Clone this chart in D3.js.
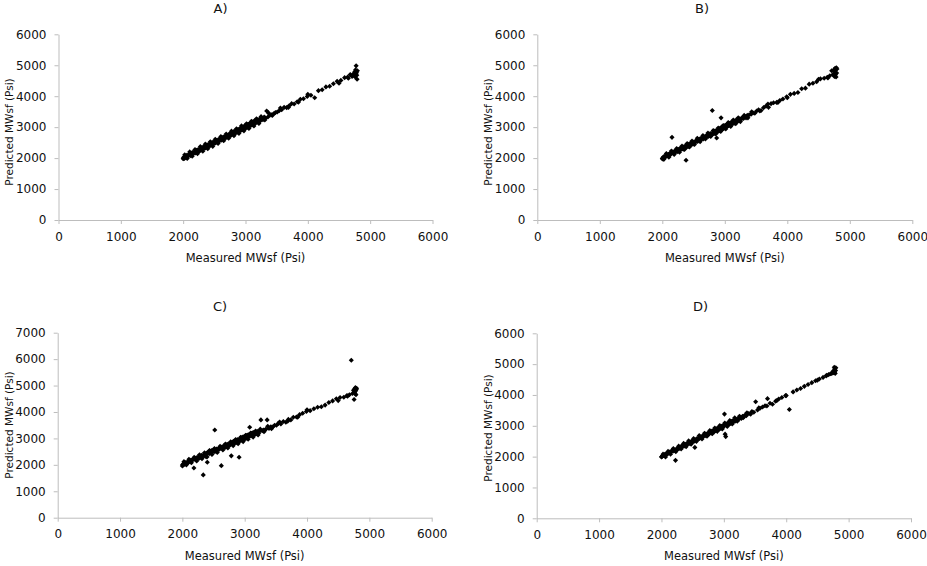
<!DOCTYPE html>
<html>
<head>
<meta charset="utf-8">
<script src="https://cdn.jsdelivr.net/npm/d3@7"></script>
<style>
  html, body { margin: 0; padding: 0; background: #fff; }
  svg { display: block; }
</style>
</head>
<body>
<svg id="chart" width="927" height="566"></svg>
<script>
// ---------------- DATA ----------------
const xTicks = [0, 1000, 2000, 3000, 4000, 5000, 6000];
const yTicks6 = [0, 1000, 2000, 3000, 4000, 5000, 6000];
const yTicks7 = [0, 1000, 2000, 3000, 4000, 5000, 6000, 7000];
const titles = ["A)", "B)", "C)", "D)"];
const xLabel = "Measured MWsf (Psi)";
const yLabel = "Predicted MWsf (Psi)";

// Measured MWsf (shared by the four models)
const measured = [
  2000, 2010, 2020, 2030, 2045, 2060, 2075, 2090, 2100, 2115,
  2130, 2140, 2155, 2170, 2185, 2200, 2210, 2225, 2240, 2255,
  2270, 2280, 2295, 2310, 2320, 2335, 2350, 2360, 2375, 2390,
  2400, 2415, 2430, 2440, 2455, 2470, 2480, 2495, 2510, 2520,
  2535, 2550, 2565, 2580, 2595, 2610, 2625, 2640, 2655, 2670,
  2685, 2700, 2710, 2720, 2735, 2750, 2760, 2770, 2785, 2800,
  2810, 2820, 2830, 2845, 2860, 2870, 2880, 2890, 2900, 2910,
  2920, 2930, 2940, 2950, 2960, 2970, 2980, 2990, 3000, 3010,
  3020, 3030, 3040, 3050, 3060, 3070, 3080, 3090, 3100, 3110,
  3120, 3130, 3140, 3150, 3165, 3180, 3195, 3210, 3225, 3240,
  3260, 3280, 3300, 3320, 3340, 3360, 3390, 3420, 3450, 3480,
  3510, 3540, 3580, 3620, 3660, 3700, 3740, 3780, 3830, 3880,
  3930, 3990, 4050, 4110, 4170, 4230, 4290, 4350, 4410, 4470,
  4530, 4590, 4640, 4680, 4710, 4730, 4745, 4755, 4760, 4765,
  4770, 4775, 4780, 4785, 4790, 4795, 2005, 2050, 2260, 2450,
  2600, 2740, 2850, 2950, 3000, 3050, 3150, 2380, 2550, 2805,
  2025, 2065, 2105, 2145, 2190, 2230, 2275, 2315, 2355, 2395,
  2435, 2475, 2515, 2560, 2605, 2650, 2690, 2730, 2775, 2815,
  2855, 2895, 2935, 2975, 3015, 3055, 3095, 3135, 3175, 3215,
  3250, 3310, 3370, 3430, 3560, 3690, 3850, 4000, 4500, 4650
];

// Predicted MWsf, model A
const predA = [
  1980, 2030, 1990, 2060, 2020, 2090, 2050, 2110, 2130, 2080,
  2160, 2120, 2190, 2150, 2210, 2170, 2250, 2200, 2280, 2230,
  2300, 2250, 2330, 2280, 2360, 2310, 2380, 2330, 2420, 2360,
  2440, 2390, 2470, 2410, 2490, 2440, 2520, 2470, 2540, 2490,
  2570, 2520, 2600, 2550, 2630, 2580, 2660, 2610, 2690, 2640,
  2720, 2670, 2740, 2690, 2770, 2720, 2800, 2740, 2820, 2770,
  2850, 2790, 2870, 2810, 2900, 2840, 2920, 2860, 2940, 2880,
  2960, 2900, 2990, 2920, 3010, 2940, 3030, 2960, 3050, 2980,
  3070, 3000, 3090, 3020, 3110, 3040, 3130, 3060, 3150, 3080,
  3170, 3100, 3200, 3120, 3220, 3150, 3240, 3180, 3260, 3210,
  3290, 3240, 3330, 3290, 3520, 3330, 3390, 3400, 3430, 3470,
  3490, 3530, 3560, 3640, 3630, 3690, 3760, 3750, 3820, 3900,
  3920, 3990, 4030, 3950, 4180, 4210, 4300, 4320, 4400, 4480,
  4510, 4600, 4620, 4700, 4640, 4720, 4680, 4790, 4620, 4850,
  4720, 4980, 4760, 4680, 4550, 4820, 2000, 2070, 2240, 2480,
  2630, 2710, 2880, 2980, 2990, 3080, 3160, 2400, 2530, 2840,
  2110, 1990, 2200, 2060, 2280, 2140, 2370, 2220, 2450, 2300,
  2530, 2380, 2610, 2470, 2700, 2560, 2780, 2640, 2870, 2720,
  2950, 2800, 3040, 2880, 3110, 2960, 3190, 3040, 3270, 3120,
  3340, 3230, 3460, 3380, 3620, 3640, 3810, 4060, 4420, 4580
];

// Predicted MWsf, model B
const predB = [
  1990, 2000, 2040, 2010, 2070, 2050, 2100, 2080, 2120, 2140,
  2110, 2170, 2670, 2200, 2160, 2230, 2190, 2260, 2210, 2280,
  2240, 2310, 2270, 2340, 2300, 2290, 2370, 2320, 2400, 2350,
  2460, 2380, 2450, 2420, 2480, 2430, 2510, 2460, 2530, 2500,
  2540, 2570, 2540, 2600, 2570, 2630, 2600, 2660, 2620, 2690,
  2650, 2710, 2680, 2750, 2700, 2780, 2720, 2790, 2760, 3540,
  2780, 2860, 2800, 2880, 2830, 2650, 2850, 2930, 2870, 2950,
  2890, 2970, 3300, 3000, 2930, 3020, 2950, 3040, 2980, 3060,
  3000, 3080, 3020, 3100, 3050, 3120, 3070, 3140, 3090, 3160,
  3110, 3180, 3130, 3200, 3150, 3230, 3180, 3250, 3200, 3270,
  3250, 3310, 3280, 3350, 3300, 3380, 3400, 3420, 3460, 3450,
  3520, 3560, 3540, 3630, 3680, 3640, 3760, 3790, 3800, 3860,
  3910, 3980, 4060, 4090, 4120, 4240, 4260, 4390, 4420, 4470,
  4560, 4580, 4610, 4660, 4820, 4700, 4850, 4640, 4780, 4900,
  4690, 4860, 4620, 4920, 4750, 4880, 1970, 2060, 2230, 2470,
  2610, 2730, 2860, 2950, 3010, 3060, 3130, 1930, 2560, 2780,
  1960, 2150, 2030, 2230, 2120, 2310, 2190, 2390, 2280, 2460,
  2360, 2550, 2440, 2640, 2530, 2730, 2620, 2810, 2700, 2890,
  2780, 2970, 2860, 3050, 2940, 3150, 3020, 3230, 3110, 3300,
  3180, 3380, 3300, 3500, 3520, 3750, 3800, 3950, 4550, 4590
];

// Predicted MWsf, model C
const predC = [
  1960, 2020, 2000, 2070, 2030, 2090, 2040, 2120, 2100, 2150,
  2120, 2180, 2160, 2210, 1880, 2240, 2190, 2270, 2230, 2300,
  2250, 2330, 2290, 2360, 2310, 1620, 2350, 2420, 2380, 2450,
  2100, 2480, 2420, 2520, 2460, 2540, 2490, 2560, 2500, 3320,
  2520, 2600, 2560, 2620, 2590, 2660, 1970, 2680, 2630, 2720,
  2660, 2750, 2690, 2780, 2710, 2800, 2740, 2820, 2340, 2850,
  2780, 2890, 2810, 2910, 2840, 2930, 2860, 2960, 2880, 2290,
  2900, 3000, 2920, 3020, 2940, 3050, 2960, 3060, 2980, 3090,
  3000, 3110, 3030, 3130, 3050, 3150, 3420, 3170, 3090, 3190,
  3110, 3210, 3130, 3230, 3150, 3250, 3180, 3270, 3200, 3280,
  3700, 3290, 3320, 3310, 3350, 3700, 3380, 3440, 3430, 3500,
  3500, 3570, 3550, 3640, 3610, 3720, 3700, 3800, 3810, 3900,
  3950, 4020, 4050, 4120, 4180, 4200, 4260, 4360, 4420, 4500,
  4550, 4560, 4620, 4650, 5960, 4700, 4820, 4470, 4750, 4880,
  4700, 4920, 4800, 4650, 4850, 4900, 2000, 2080, 2250, 2500,
  2640, 2720, 2870, 2990, 3020, 3080, 3170, 2310, 2540, 2830,
  2120, 2000, 2210, 2080, 2290, 2150, 2380, 2230, 2460, 2300,
  2540, 2390, 2620, 2470, 2700, 2560, 2790, 2640, 2870, 2720,
  2960, 2800, 3040, 2880, 3120, 2970, 3200, 3050, 3280, 3130,
  3350, 3250, 3460, 3370, 3620, 3650, 3800, 4080, 4430, 4600
];

// Predicted MWsf, model D
const predD = [
  1990, 2010, 2030, 2040, 2060, 2080, 2070, 2110, 2090, 2130,
  2150, 2130, 2170, 2190, 2180, 2220, 2200, 1880, 2250, 2230,
  2290, 2260, 2310, 2300, 2340, 2320, 2370, 2340, 2400, 2370,
  2420, 2400, 2450, 2420, 2470, 2440, 2500, 2470, 2520, 2490,
  2300, 2540, 2580, 2560, 2610, 2590, 2640, 2620, 2670, 2650,
  2700, 2680, 2730, 2700, 2750, 2720, 2780, 2740, 2800, 2770,
  2830, 2790, 2850, 2810, 2880, 2840, 2900, 2860, 2920, 2880,
  2940, 2900, 2960, 2920, 2980, 2940, 3000, 2960, 3020, 3380,
  2730, 2650, 3060, 3010, 3080, 3040, 3100, 3060, 3120, 3080,
  3140, 3100, 3160, 3120, 3180, 3150, 3200, 3180, 3220, 3210,
  3280, 3240, 3310, 3290, 3350, 3330, 3400, 3390, 3460, 3440,
  3780, 3510, 3570, 3610, 3650, 3880, 3730, 3700, 3800, 3870,
  3920, 3980, 3530, 4100, 4160, 4210, 4280, 4340, 4400, 4460,
  4520, 4570, 4620, 4660, 4690, 4700, 4730, 4780, 4720, 4760,
  4900, 4740, 4850, 4700, 4790, 4880, 2000, 2040, 2270, 2440,
  2590, 2730, 2840, 2930, 2990, 3030, 3140, 2370, 2530, 2790,
  2080, 1990, 2170, 2080, 2260, 2160, 2340, 2250, 2430, 2320,
  2510, 2400, 2590, 2490, 2680, 2570, 2760, 2660, 2850, 2740,
  2930, 2820, 3010, 2900, 3090, 2980, 3170, 3060, 3260, 3150,
  3310, 3260, 3420, 3380, 3580, 3640, 3820, 3980, 4480, 4640
];

// ---------------- LAYOUT ----------------
const panels = [
  { title: titles[0], pred: predA, yTicks: yTicks6, xr: [58.5, 432.5], yr: [220, 34.3], tx: 220.5, ty: 13, ylx: 13, yly: 132 },
  { title: titles[1], pred: predB, yTicks: yTicks6, xr: [537.3, 912.3], yr: [220, 34.3], tx: 702, ty: 13, ylx: 492, yly: 132 },
  { title: titles[2], pred: predC, yTicks: yTicks7, xr: [57.7, 431.7], yr: [517.7, 332.7], tx: 220, ty: 311, ylx: 13, yly: 425 },
  { title: titles[3], pred: predD, yTicks: yTicks6, xr: [536.7, 911], yr: [518.3, 333.3], tx: 700.5, ty: 311, ylx: 491.5, yly: 428 }
];

const svg = d3.select("#chart");
const FONT = "'DejaVu Sans', 'Liberation Sans', sans-serif";
const AXIS_COL = "#bdbdbd";
const TEXT_COL = "#111";
const marker = d3.symbol().type(d3.symbolSquare).size(13);

panels.forEach(p => {
  const yMax = p.yTicks[p.yTicks.length - 1];
  const x = d3.scaleLinear().domain([0, 6000]).range(p.xr);
  const y = d3.scaleLinear().domain([0, yMax]).range(p.yr);
  const g = svg.append("g");

  // axes
  const xa = g.append("g")
    .attr("transform", `translate(0,${p.yr[0]})`)
    .call(d3.axisBottom(x).tickValues(xTicks).tickFormat(d3.format("d"))
      .tickSizeInner(4).tickSizeOuter(0).tickPadding(8));
  const ya = g.append("g")
    .attr("transform", `translate(${p.xr[0]},0)`)
    .call(d3.axisLeft(y).tickValues(p.yTicks).tickFormat(d3.format("d"))
      .tickSizeInner(4).tickSizeOuter(0).tickPadding(8));
  [xa, ya].forEach(a => {
    a.select(".domain").attr("stroke", AXIS_COL).attr("stroke-width", 1);
    a.selectAll(".tick line").attr("stroke", AXIS_COL);
    a.selectAll(".tick text").attr("fill", TEXT_COL)
      .style("font-family", FONT).style("font-size", "12px");
  });

  // points
  g.append("g").selectAll("path")
    .data(measured.map((m, i) => [m, p.pred[i]]))
    .join("path")
    .attr("d", marker)
    .attr("transform", d => `translate(${x(d[0])},${y(d[1])}) rotate(45)`)
    .attr("fill", "#000");

  // title
  g.append("text")
    .attr("x", p.tx).attr("y", p.ty)
    .attr("text-anchor", "middle")
    .attr("fill", TEXT_COL)
    .style("font-family", FONT).style("font-size", "13px")
    .text(p.title);

  // x label
  g.append("text")
    .attr("x", (p.xr[0] + p.xr[1]) / 2).attr("y", p.yr[0] + 42)
    .attr("text-anchor", "middle")
    .attr("fill", TEXT_COL)
    .style("font-family", FONT).style("font-size", "11.5px")
    .text(xLabel);

  // y label
  g.append("text")
    .attr("transform", `translate(${p.ylx},${p.yly}) rotate(-90)`)
    .attr("text-anchor", "middle")
    .attr("fill", TEXT_COL)
    .style("font-family", FONT).style("font-size", "10.5px")
    .text(yLabel);
});
</script>
</body>
</html>
